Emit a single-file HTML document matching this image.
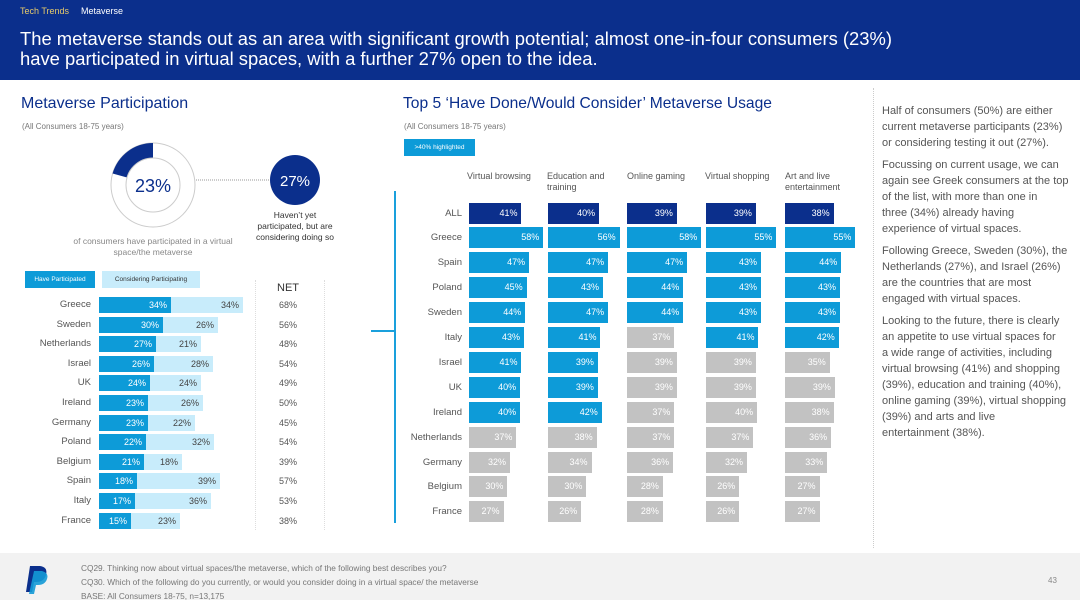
<!DOCTYPE html>
<html><head><meta charset="utf-8"><style>
*{margin:0;padding:0;box-sizing:border-box}
body{width:1080px;height:600px;position:relative;background:#fff;font-family:"Liberation Sans",sans-serif;overflow:hidden;color:#555}
.a{position:absolute;white-space:nowrap}
.hdr{left:0;top:0;width:1080px;height:80px;background:#0b2f8c}
.lr{position:absolute;left:99px;height:16px;display:flex}
.lr span{display:block;height:16px;font-size:9px;line-height:16px;text-align:right;padding-right:4px}
.d{background:#0d9bd8;color:#fff}
.l{background:#c8ecfb;color:#444}
.ln{position:absolute;left:20px;width:71px;text-align:right;font-size:9.5px;line-height:16px;color:#555}
.nt{position:absolute;left:270px;width:36px;text-align:center;font-size:9px;line-height:16px;color:#555}
.rr{position:absolute;left:0;height:21px;width:870px}
.rr .n{position:absolute;right:408px;width:80px;text-align:right;font-size:9.5px;line-height:21px;color:#555}
.rr b{position:absolute;top:0;height:21px;width:calc(var(--v)*1.28px);font-weight:normal;font-size:9px;line-height:21px;text-align:right;padding-right:4px;color:#fff;background:#0d9bd8}
.rr b.k{background:#0b2f8c}
.rr b.g{background:#c2c2c2}
.c1{left:469px}.c2{left:548px}.c3{left:627px}.c4{left:706px}.c5{left:785px}
.ch{position:absolute;top:171px;font-size:9px;color:#555;line-height:11px;white-space:normal;width:78px}
</style></head><body>
<div class="a hdr"></div>
<div class="a" style="left:20px;top:6px;font-size:9px;color:#e5c96a">Tech Trends</div>
<div class="a" style="left:81px;top:6px;font-size:9px;color:#fff">Metaverse</div>
<div class="a" style="left:20px;top:29px;font-size:18.4px;color:#fff;line-height:20px">The metaverse stands out as an area with significant growth potential; almost one-in-four consumers (23%)<br>have participated in virtual spaces, with a further 27% open to the idea.</div>

<div class="a" style="left:21px;top:95px;font-size:16px;color:#0b2f8c">Metaverse Participation</div>
<div class="a" style="left:22px;top:122px;font-size:8px;color:#777">(All Consumers 18-75 years)</div>

<svg class="a" style="left:0;top:0" width="380" height="300">
<circle cx="153" cy="185" r="42" fill="#fff" stroke="#ccc" stroke-width="1"/>
<path d="M153 143 A42 42 0 0 0 112.6 173.5 L127 177.5 A27 27 0 0 1 153 158 Z" fill="#0b2f8c"/>
<circle cx="153" cy="185" r="27" fill="#fff" stroke="#ccc" stroke-width="1"/>
<text x="153" y="192" text-anchor="middle" font-size="18" fill="#0b2f8c" font-family="Liberation Sans">23%</text>
<line x1="196" y1="180" x2="270" y2="180" stroke="#999" stroke-dasharray="1,1"/>
<circle cx="295" cy="180" r="25" fill="#0b2f8c"/>
<text x="295" y="186" text-anchor="middle" font-size="15" fill="#fff" font-family="Liberation Sans">27%</text>
</svg>
<div class="a" style="left:73px;top:236px;width:160px;text-align:center;font-size:8.5px;color:#888;white-space:normal;line-height:11px">of consumers have participated in a virtual space/the metaverse</div>
<div class="a" style="left:240px;top:210px;width:110px;text-align:center;font-size:8.5px;color:#333;line-height:11px">Haven’t yet<br>participated, but are<br>considering doing so</div>

<div class="a" style="left:25px;top:271px;width:70px;height:17px;background:#0d9bd8;color:#fff;font-size:6.5px;line-height:17px;text-align:center">Have Participated</div>
<div class="a" style="left:102px;top:271px;width:98px;height:17px;background:#c8ecfb;color:#333;font-size:6.5px;line-height:17px;text-align:center">Considering Participating</div>
<div class="a" style="left:255px;top:280px;width:0;height:250px;border-left:1px dotted #ddd"></div>
<div class="a" style="left:324px;top:280px;width:0;height:250px;border-left:1px dotted #ddd"></div>
<div class="a" style="left:270px;top:282px;width:36px;text-align:center;font-size:11px;color:#333">NET</div>

<div class="ln" style="top:297px">Greece</div><div class="lr" style="top:297px"><span class="d" style="width:72px">34%</span><span class="l" style="width:72px">34%</span></div><div class="nt" style="top:297px">68%</div>
<div class="ln" style="top:317px">Sweden</div><div class="lr" style="top:317px"><span class="d" style="width:64px">30%</span><span class="l" style="width:55px">26%</span></div><div class="nt" style="top:317px">56%</div>
<div class="ln" style="top:336px">Netherlands</div><div class="lr" style="top:336px"><span class="d" style="width:57px">27%</span><span class="l" style="width:45px">21%</span></div><div class="nt" style="top:336px">48%</div>
<div class="ln" style="top:356px">Israel</div><div class="lr" style="top:356px"><span class="d" style="width:55px">26%</span><span class="l" style="width:59px">28%</span></div><div class="nt" style="top:356px">54%</div>
<div class="ln" style="top:375px">UK</div><div class="lr" style="top:375px"><span class="d" style="width:51px">24%</span><span class="l" style="width:51px">24%</span></div><div class="nt" style="top:375px">49%</div>
<div class="ln" style="top:395px">Ireland</div><div class="lr" style="top:395px"><span class="d" style="width:49px">23%</span><span class="l" style="width:55px">26%</span></div><div class="nt" style="top:395px">50%</div>
<div class="ln" style="top:415px">Germany</div><div class="lr" style="top:415px"><span class="d" style="width:49px">23%</span><span class="l" style="width:47px">22%</span></div><div class="nt" style="top:415px">45%</div>
<div class="ln" style="top:434px">Poland</div><div class="lr" style="top:434px"><span class="d" style="width:47px">22%</span><span class="l" style="width:68px">32%</span></div><div class="nt" style="top:434px">54%</div>
<div class="ln" style="top:454px">Belgium</div><div class="lr" style="top:454px"><span class="d" style="width:45px">21%</span><span class="l" style="width:38px">18%</span></div><div class="nt" style="top:454px">39%</div>
<div class="ln" style="top:473px">Spain</div><div class="lr" style="top:473px"><span class="d" style="width:38px">18%</span><span class="l" style="width:83px">39%</span></div><div class="nt" style="top:473px">57%</div>
<div class="ln" style="top:493px">Italy</div><div class="lr" style="top:493px"><span class="d" style="width:36px">17%</span><span class="l" style="width:76px">36%</span></div><div class="nt" style="top:493px">53%</div>
<div class="ln" style="top:513px">France</div><div class="lr" style="top:513px"><span class="d" style="width:32px">15%</span><span class="l" style="width:49px">23%</span></div><div class="nt" style="top:513px">38%</div>

<div class="a" style="left:403px;top:95px;font-size:15.6px;color:#0b2f8c">Top 5 ‘Have Done/Would Consider’ Metaverse Usage</div>
<div class="a" style="left:404px;top:122px;font-size:8px;color:#777">(All Consumers 18-75 years)</div>
<div class="a" style="left:404px;top:139px;width:71px;height:17px;background:#0d9bd8;color:#fff;font-size:6.5px;line-height:17px;text-align:center">&gt;40% highlighted</div>
<div class="ch" style="left:467px">Virtual browsing</div>
<div class="ch" style="left:547px">Education and training</div>
<div class="ch" style="left:627px">Online gaming</div>
<div class="ch" style="left:705px">Virtual shopping</div>
<div class="ch" style="left:785px">Art and live entertainment</div>
<div class="a" style="left:394px;top:191px;width:2px;height:332px;background:#1aa0dc"></div>
<div class="a" style="left:371px;top:330px;width:24px;height:2px;background:#1aa0dc"></div>

<div class="rr" style="top:203px"><span class="n">ALL</span><b class="k c1" style="--v:41">41%</b><b class="k c2" style="--v:40">40%</b><b class="k c3" style="--v:39">39%</b><b class="k c4" style="--v:39">39%</b><b class="k c5" style="--v:38">38%</b></div>
<div class="rr" style="top:227px"><span class="n">Greece</span><b class="c1" style="--v:58">58%</b><b class="c2" style="--v:56">56%</b><b class="c3" style="--v:58">58%</b><b class="c4" style="--v:55">55%</b><b class="c5" style="--v:55">55%</b></div>
<div class="rr" style="top:252px"><span class="n">Spain</span><b class="c1" style="--v:47">47%</b><b class="c2" style="--v:47">47%</b><b class="c3" style="--v:47">47%</b><b class="c4" style="--v:43">43%</b><b class="c5" style="--v:44">44%</b></div>
<div class="rr" style="top:277px"><span class="n">Poland</span><b class="c1" style="--v:45">45%</b><b class="c2" style="--v:43">43%</b><b class="c3" style="--v:44">44%</b><b class="c4" style="--v:43">43%</b><b class="c5" style="--v:43">43%</b></div>
<div class="rr" style="top:302px"><span class="n">Sweden</span><b class="c1" style="--v:44">44%</b><b class="c2" style="--v:47">47%</b><b class="c3" style="--v:44">44%</b><b class="c4" style="--v:43">43%</b><b class="c5" style="--v:43">43%</b></div>
<div class="rr" style="top:327px"><span class="n">Italy</span><b class="c1" style="--v:43">43%</b><b class="c2" style="--v:41">41%</b><b class="g c3" style="--v:37">37%</b><b class="c4" style="--v:41">41%</b><b class="c5" style="--v:42">42%</b></div>
<div class="rr" style="top:352px"><span class="n">Israel</span><b class="c1" style="--v:41">41%</b><b class="c2" style="--v:39">39%</b><b class="g c3" style="--v:39">39%</b><b class="g c4" style="--v:39">39%</b><b class="g c5" style="--v:35">35%</b></div>
<div class="rr" style="top:377px"><span class="n">UK</span><b class="c1" style="--v:40">40%</b><b class="c2" style="--v:39">39%</b><b class="g c3" style="--v:39">39%</b><b class="g c4" style="--v:39">39%</b><b class="g c5" style="--v:39">39%</b></div>
<div class="rr" style="top:402px"><span class="n">Ireland</span><b class="c1" style="--v:40">40%</b><b class="c2" style="--v:42">42%</b><b class="g c3" style="--v:37">37%</b><b class="g c4" style="--v:40">40%</b><b class="g c5" style="--v:38">38%</b></div>
<div class="rr" style="top:427px"><span class="n">Netherlands</span><b class="g c1" style="--v:37">37%</b><b class="g c2" style="--v:38">38%</b><b class="g c3" style="--v:37">37%</b><b class="g c4" style="--v:37">37%</b><b class="g c5" style="--v:36">36%</b></div>
<div class="rr" style="top:452px"><span class="n">Germany</span><b class="g c1" style="--v:32">32%</b><b class="g c2" style="--v:34">34%</b><b class="g c3" style="--v:36">36%</b><b class="g c4" style="--v:32">32%</b><b class="g c5" style="--v:33">33%</b></div>
<div class="rr" style="top:476px"><span class="n">Belgium</span><b class="g c1" style="--v:30">30%</b><b class="g c2" style="--v:30">30%</b><b class="g c3" style="--v:28">28%</b><b class="g c4" style="--v:26">26%</b><b class="g c5" style="--v:27">27%</b></div>
<div class="rr" style="top:501px"><span class="n">France</span><b class="g c1" style="--v:27">27%</b><b class="g c2" style="--v:26">26%</b><b class="g c3" style="--v:28">28%</b><b class="g c4" style="--v:26">26%</b><b class="g c5" style="--v:27">27%</b></div>

<div class="a" style="left:873px;top:88px;width:0;height:460px;border-left:1px dotted #ccc"></div>
<div class="a" style="left:882px;top:103px;width:196px;font-size:11px;line-height:16px;color:#555">
<p style="margin-bottom:6px">Half of consumers (50%) are either<br>current metaverse participants (23%)<br>or considering testing it out (27%).</p>
<p style="margin-bottom:6px">Focussing on current usage, we can<br>again see Greek consumers at the top<br>of the list, with more than one in<br>three (34%) already having<br>experience of virtual spaces.</p>
<p style="margin-bottom:6px">Following Greece, Sweden (30%), the<br>Netherlands (27%), and Israel (26%)<br>are the countries that are most<br>engaged with virtual spaces.</p>
<p>Looking to the future, there is clearly<br>an appetite to use virtual spaces for<br>a wide range of activities, including<br>virtual browsing (41%) and shopping<br>(39%), education and training (40%),<br>online gaming (39%), virtual shopping<br>(39%) and arts and live<br>entertainment (38%).</p>
</div>

<div class="a" style="left:0;top:553px;width:1080px;height:47px;background:#f2f2f2"></div>
<svg class="a" style="left:24px;top:564px" width="28" height="32"><path d="M6 2 H16 Q24 3 22 11 Q20 18 12 18 H10 L8 28 H2 Z" fill="#0b2f8c"/><path d="M10 7 H18 Q25 9 23 15 Q21 21 14 21 H12 L10 30 H5 Z" fill="#139ad6" opacity=".9"/></svg>
<div class="a" style="left:81px;top:561px;font-size:8.3px;line-height:14px;color:#777">CQ29. Thinking now about virtual spaces/the metaverse, which of the following best describes you?<br>CQ30. Which of the following do you currently, or would you consider doing in a virtual space/ the metaverse<br>BASE: All Consumers 18-75, n=13,175</div>
<div class="a" style="left:1048px;top:576px;font-size:8px;color:#888">43</div>
</body></html>
